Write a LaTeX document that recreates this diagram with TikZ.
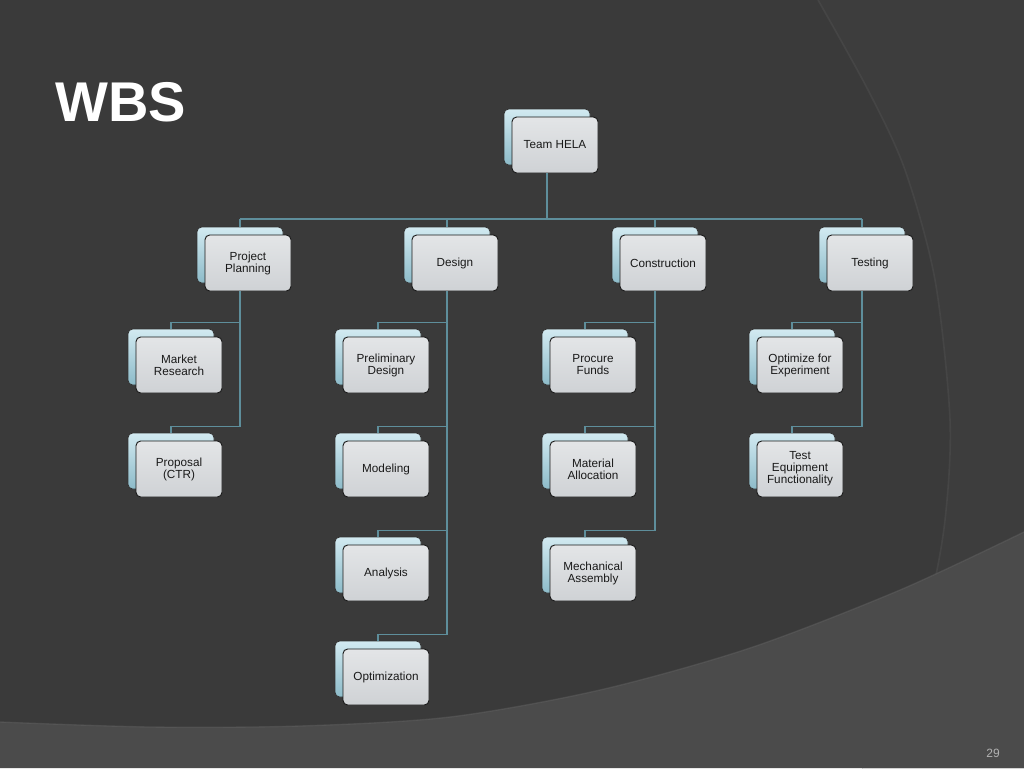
\documentclass[tikz,border=0pt]{standalone}
\usepackage{fontspec}
\setmainfont{Liberation Sans}
\usetikzlibrary{positioning, calc}
\definecolor{slatebg}{HTML}{3A3A3A}
\definecolor{slateside}{HTML}{3D3D3D}
\definecolor{slateband}{HTML}{4B4B4B}
\definecolor{linkteal}{HTML}{5E8E9B}
\definecolor{backtop}{HTML}{D2EAF1}
\definecolor{backbot}{HTML}{8DBBC9}
\definecolor{fronttop}{HTML}{E3E5E7}
\definecolor{frontbot}{HTML}{CFD2D5}

\tikzset{
  backbox/.style={rounded corners=3.5pt, minimum width=64.5pt, minimum height=42pt,
    top color=backtop, bottom color=backbot, draw=black!80, line width=0.6pt},
  frontbox/.style={rounded corners=3.5pt, minimum width=64.5pt, minimum height=42pt,
    top color=fronttop, bottom color=frontbot, draw=black!90, line width=0.7pt,
    align=center, text=black!90, font=\fontsize{8.8}{9}\selectfont, inner sep=1pt},
  link/.style={draw=linkteal, line width=1.1pt},
}

% back box at (x,y), front box shifted down right
\newcommand{\wbsnode}[4]{%
  \node[backbox] (#1b) at (#2,#3) {};
  \node[frontbox] (#1) at ({#2+8},{#3+8}) {#4};
}

\begin{document}
\begin{tikzpicture}[x=0.75pt, y=-0.75pt]
  \useasboundingbox (0,0) rectangle (1024,768);
  % background
  \fill[slatebg] (0,0) rectangle (1024,768);
  \fill[slateside] plot[smooth] coordinates {(818,0) (868,90) (905,170) (935,280) (950,420) (945,520) (930,600) (903,673) (862,768)}
    -- (1024,768) -- (1024,0) -- cycle;
  \fill[slateband] plot[smooth] coordinates {(0,722) (150,727) (300,726) (450,717) (600,690) (750,648) (900,590) (1024,532)}
    -- (1024,768) -- (0,768) -- cycle;
  \draw[black!70, line width=1.2pt, opacity=0.6] plot[smooth] coordinates {(818,0) (868,90) (905,170) (935,280) (950,420) (945,520) (930,600) (903,673) (862,768)};
  \draw[black!60, line width=1pt, opacity=0.4] plot[smooth] coordinates {(0,722) (150,727) (300,726) (450,717) (600,690) (750,648) (900,590) (1024,532)};

  % title and page number
  \node[anchor=base west, inner sep=0pt, text=white, font=\fontsize{42}{42}\selectfont\bfseries] (title) at (55,121) {WBS};
  \node[anchor=base east, inner sep=0pt, text=black!30, font=\fontsize{9}{9}\selectfont] (pagenum) at (1000,757) {29};

  % boxes
  \wbsnode{hela}{547}{137}{Team HELA}
  \wbsnode{plan}{240}{255}{Project\\Planning}
  \wbsnode{design}{447}{255}{Design}
  \wbsnode{constr}{655}{255}{Construction}
  \wbsnode{test}{862}{255}{Testing}
  \wbsnode{mkt}{171}{357}{Market\\Research}
  \wbsnode{prop}{171}{461}{Proposal\\(CTR)}
  \wbsnode{prel}{378}{357}{Preliminary\\Design}
  \wbsnode{model}{378}{461}{Modeling}
  \wbsnode{anal}{378}{565}{Analysis}
  \wbsnode{optim}{378}{669}{Optimization}
  \wbsnode{proc}{585}{357}{Procure\\Funds}
  \wbsnode{matl}{585}{461}{Material\\Allocation}
  \wbsnode{mech}{585}{565}{Mechanical\\Assembly}
  \wbsnode{optx}{792}{357}{Optimize for\\Experiment}
  \wbsnode{teq}{792}{461}{Test\\Equipment\\Functionality}

  % connectors
  \coordinate (bar) at (0,219);
  \draw[link] (hela.south -| helab) -- (helab |- bar);
  \draw[link] (planb |- bar) -- (testb |- bar);
  \foreach \n in {plan,design,constr,test}
    \draw[link] (\n b |- bar) -- (\n b.north);
  \foreach \p/\c in {plan/mkt, plan/prop, design/prel, design/model, design/anal, design/optim,
                     constr/proc, constr/matl, constr/mech, test/optx, test/teq}
    \draw[link] (\p.south -| \p b) |- ([yshift=4.5pt]\c b.north) -- (\c b.north);
\end{tikzpicture}
\end{document}
